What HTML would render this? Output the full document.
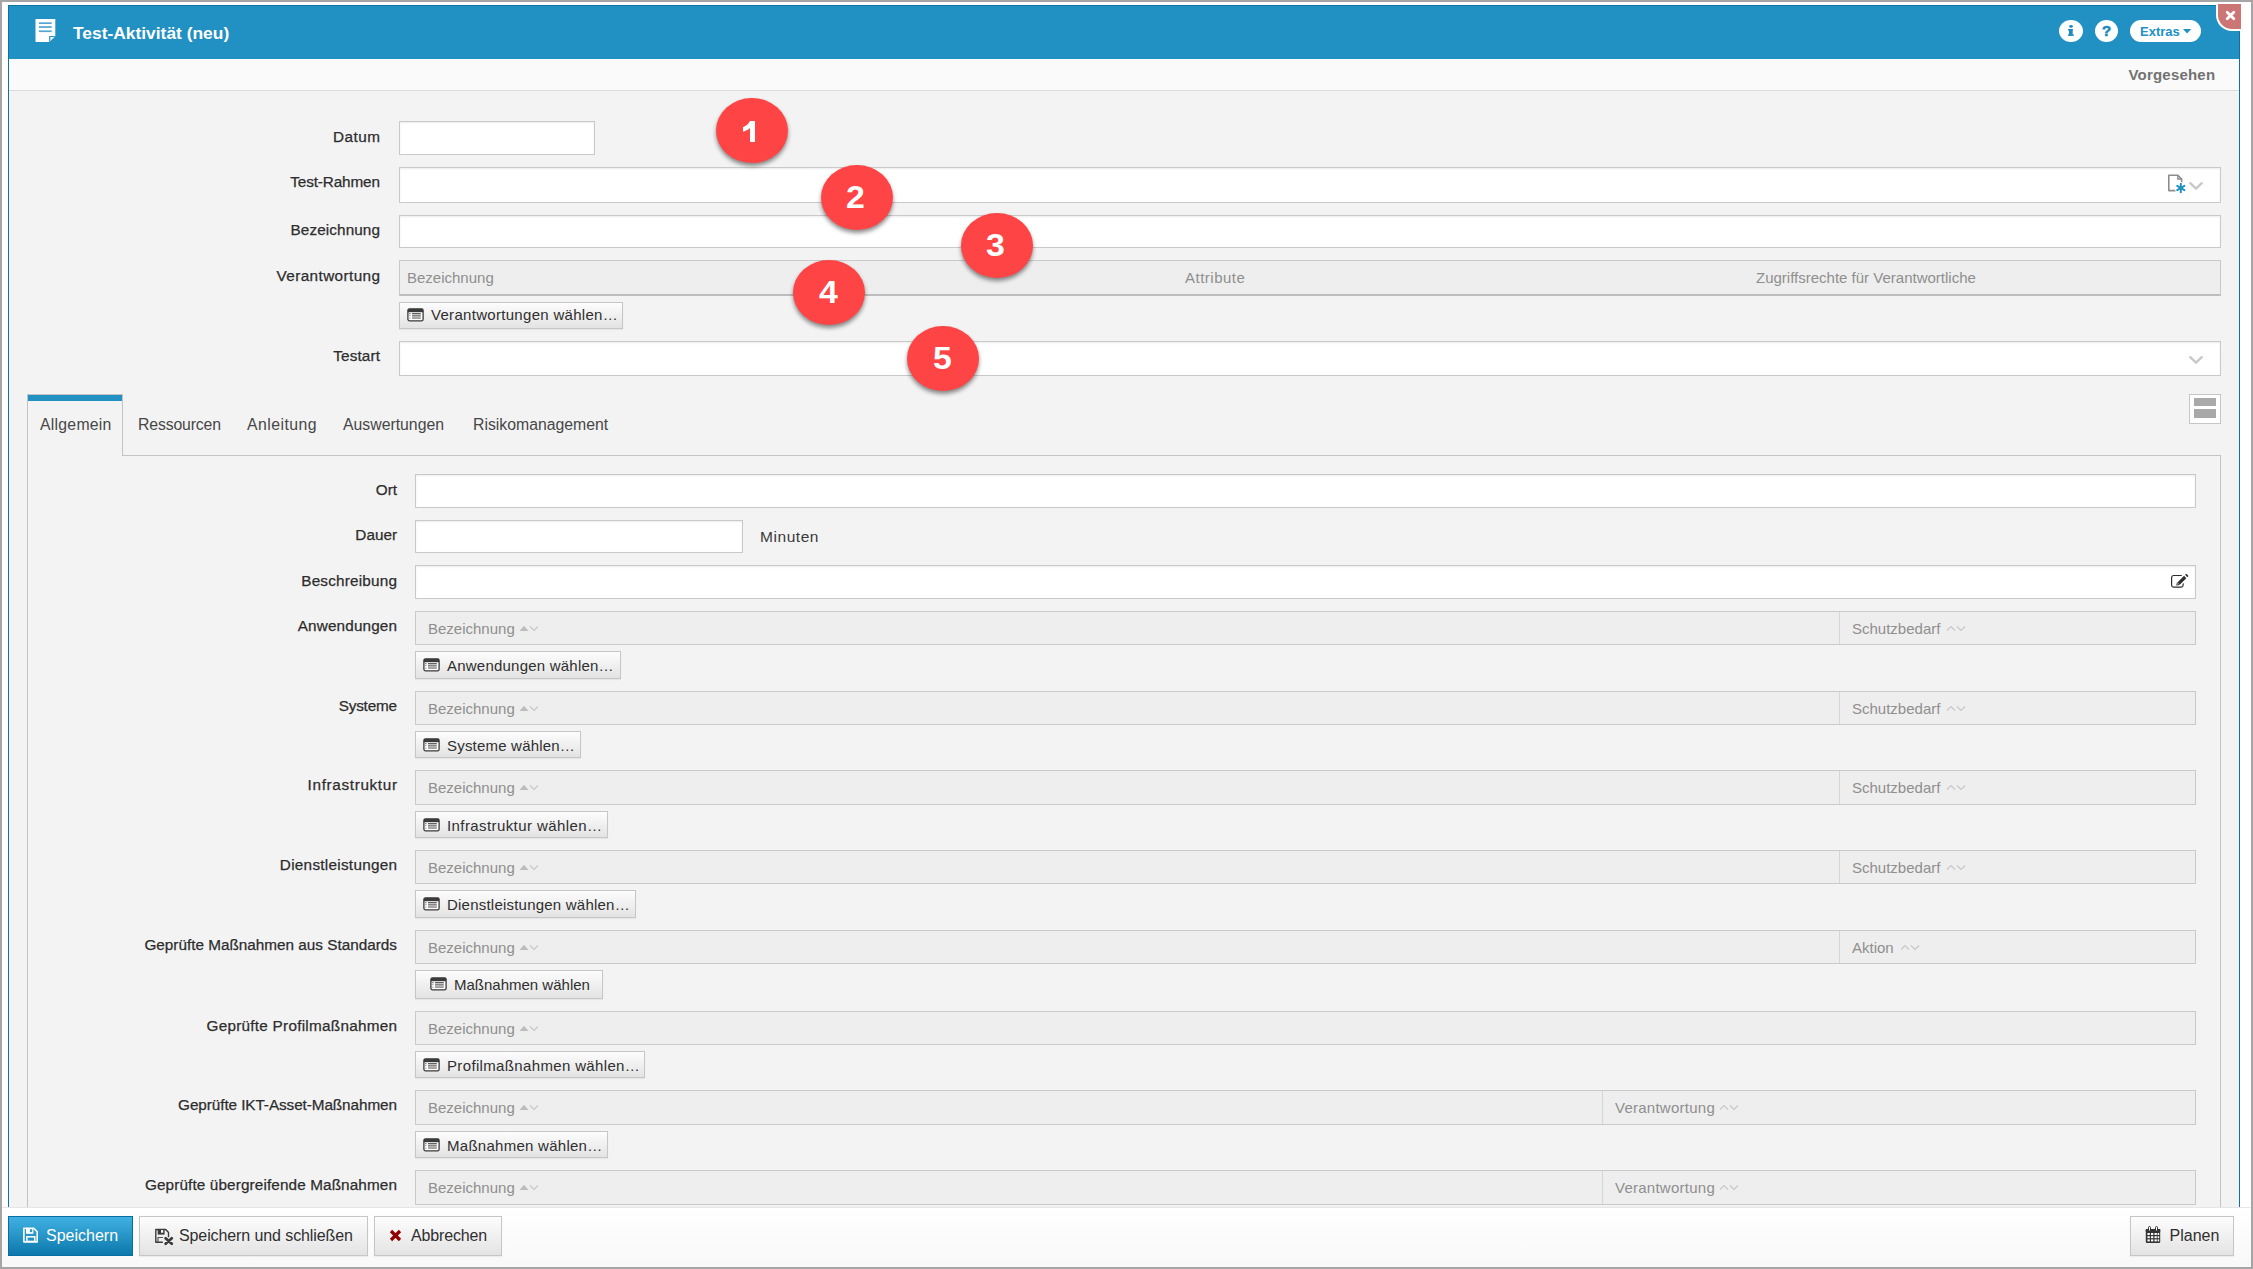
<!DOCTYPE html>
<html><head><meta charset="utf-8">
<style>
*{box-sizing:border-box;margin:0;padding:0}
html,body{width:2253px;height:1269px;overflow:hidden;background:#fff;font-family:"Liberation Sans",sans-serif}
.a{position:absolute}
.frame{left:0;top:0;width:2253px;height:1269px;border:2px solid #a5a5a5}
.modal{left:8px;top:5px;width:2232px;height:1262px;border:1px solid #0b73a7;background:#f3f3f3}
.hdr{left:9px;top:6px;width:2230px;height:53px;background:#2190c3}
.tb{left:9px;top:59px;width:2230px;height:32px;background:#fafafa;border-bottom:1px solid #dcdcdc}
.t{position:absolute;white-space:nowrap;line-height:17px;font-size:15px}
.lbl{color:#2d2d2d;text-align:right;-webkit-text-stroke:0.25px #2d2d2d;font-size:15.3px}
.inp{position:absolute;background:#fff;border:1px solid #c9c9c9;box-shadow:inset 0 1px 2px rgba(0,0,0,.075)}
.th{position:absolute;background:#eeeeee;border:1px solid #c9c9c9}
.ph{color:#8f8f8f}
.btn{position:absolute;border:1px solid #c6c6c6;background:linear-gradient(#fdfdfd,#e3e3e3);box-shadow:0 1px 1px rgba(0,0,0,.05)}
.bt{color:#2f2f2f;font-size:15px}
.circ{position:absolute;background:#fe4444;border-radius:50%;box-shadow:0 3px 4px rgba(0,0,0,.45);color:#fff;font-weight:bold;font-size:28px;text-align:center}
.tab{color:#474747;font-size:15.8px}
.dig{color:#fff;font-weight:bold;font-size:30.5px;line-height:34px;transform:scaleX(1.11);transform-origin:0 0}
.foot{left:2px;top:1207px;width:2249px;height:60px;background:linear-gradient(#fff,#f8f8f8);border-top:1px solid #e6e6e6}
</style></head><body>
<div class="a modal"></div>
<div class="a hdr"></div>
<div class="a tb"></div>
<!-- header right -->
<div class="a" style="left:2059px;top:20px;width:24px;height:22px;border-radius:50%;background:#fff"></div>
<div class="a" style="left:2095px;top:20px;width:23px;height:22px;border-radius:50%;background:#fff"></div>
<div class="a" style="left:2130px;top:20px;width:71px;height:22px;border-radius:11px;background:#fff"></div>
<div class="t" style="left:2140px;top:23px;font-size:13px;font-weight:bold;color:#2190c3">Extras</div>
<div class="a" style="left:2216px;top:2px;width:35px;height:29px;background:#fff;border-bottom-left-radius:16px"></div>
<div class="a" style="left:2218px;top:4px;width:23px;height:25px;background:#cc7575;border-bottom-left-radius:14px"></div>



<!-- header -->
<svg class="a" style="left:35px;top:19px" width="21" height="24" viewBox="0 0 21 24"><path d="M0.5 0H20.3V17L14.2 23.1H0.5Z" fill="#fff"/><path d="M14.2 23.1V17H20.3Z" fill="#2190c3"/><path d="M15.3 18.1H19.6L15.3 21.9Z" fill="#fff" opacity=".92"/><rect x="3.9" y="3.3" width="12.8" height="1.7" fill="#55a7d2"/><rect x="3.9" y="7.2" width="12.8" height="1.7" fill="#55a7d2"/><rect x="3.9" y="11.4" width="12.8" height="1.7" fill="#55a7d2"/></svg>
<div class="t" style="left:73px;top:23px;font-size:17.4px;font-weight:bold;color:#fff;line-height:20px">Test-Aktivität (neu)</div>

<div class="t" style="left:2128.5px;top:66px;font-size:15px;font-weight:bold;color:#727272;letter-spacing:0.2px">Vorgesehen</div>

<!-- top form -->
<div class="t lbl" style="right:1873px;top:128px;letter-spacing:0.5px;margin-right:-0.5px">Datum</div>
<div class="inp" style="left:399px;top:121px;width:196px;height:34px"></div>
<div class="t lbl" style="right:1873px;top:173px;letter-spacing:-0.12px;margin-right:0.12px">Test-Rahmen</div>
<div class="inp" style="left:399px;top:167px;width:1822px;height:36px"></div>
<div class="t lbl" style="right:1873px;top:221px;letter-spacing:0.1px;margin-right:-0.1px">Bezeichnung</div>
<div class="inp" style="left:399px;top:215px;width:1822px;height:33px"></div>
<div class="t lbl" style="right:1873px;top:267px;letter-spacing:0.4px;margin-right:-0.4px">Verantwortung</div>
<div class="th" style="left:399px;top:260px;width:1822px;height:36px;border-bottom:2px solid #bdbdbd"></div>
<div class="t ph" style="left:407px;top:269px">Bezeichnung</div>
<div class="t ph" style="left:1185px;top:269px;letter-spacing:0.5px">Attribute</div>
<div class="t ph" style="left:1756px;top:269px">Zugriffsrechte für Verantwortliche</div>
<div class="btn" style="left:399px;top:302px;width:224px;height:27px"></div>
<div class="t bt" style="left:431px;top:306px;letter-spacing:0.3px">Verantwortungen wählen…</div>
<div class="t lbl" style="right:1873px;top:347px;letter-spacing:0.15px;margin-right:-0.15px">Testart</div>
<div class="inp" style="left:399px;top:341px;width:1822px;height:35px"></div>


<!-- tabs -->
<div class="a" style="left:27px;top:455px;width:2194px;height:800px;border:1px solid #c3c3c3;border-bottom:none"></div>
<div class="a" style="left:27px;top:394px;width:96px;height:62px;border:1px solid #c3c3c3;border-bottom:none;background:#f3f3f3"></div>
<div class="a" style="left:28px;top:395px;width:94px;height:6px;background:#2190c3"></div>
<div class="t tab" style="left:40px;top:416px;letter-spacing:0.25px">Allgemein</div>
<div class="t tab" style="left:138px;top:416px;letter-spacing:-0.15px">Ressourcen</div>
<div class="t tab" style="left:247px;top:416px;letter-spacing:0.45px">Anleitung</div>
<div class="t tab" style="left:343px;top:416px">Auswertungen</div>
<div class="t tab" style="left:473px;top:416px">Risikomanagement</div>
<div class="a" style="left:2189px;top:394px;width:32px;height:30px;background:#fff;border:1px solid #c6c6c6"></div>
<div class="a" style="left:2194px;top:398px;width:22px;height:8px;background:#a9a9a9"></div>
<div class="a" style="left:2194px;top:409px;width:22px;height:9px;background:#a9a9a9"></div>

<!-- panel fields -->
<div class="t lbl" style="right:1856px;top:481px">Ort</div>
<div class="inp" style="left:415px;top:474px;width:1781px;height:34px"></div>
<div class="t lbl" style="right:1856px;top:526px">Dauer</div>
<div class="inp" style="left:415px;top:520px;width:328px;height:33px"></div>
<div class="t" style="left:760px;top:528px;color:#3a3a3a;font-size:15.5px;letter-spacing:0.55px">Minuten</div>
<div class="t lbl" style="right:1856px;top:572px;letter-spacing:0.2px;margin-right:-0.2px">Beschreibung</div>
<div class="inp" style="left:415px;top:565px;width:1781px;height:34px"></div>
<div class="t lbl" style="right:1856px;top:617px;letter-spacing:0.14px;margin-right:-0.14px">Anwendungen</div>
<div class="th" style="left:415px;top:611px;width:1781px;height:34px"></div>
<div class="t ph" style="left:428px;top:620px">Bezeichnung</div>
<svg class="a" style="left:519px;top:625px" width="20" height="7" viewBox="0 0 20 7"><path d="M0.5 6L5 0.8L9.5 6Z" fill="#bdbdbd"/><path d="M11 1.5L15 5.5L19 1.5" fill="none" stroke="#c8c8c8" stroke-width="1.2"/></svg>
<div class="a" style="left:1839px;top:612px;width:1px;height:32px;background:#d6d6d6"></div>
<div class="t ph" style="left:1852px;top:620px">Schutzbedarf</div>
<div class="btn" style="left:415px;top:651px;width:206px;height:28px"></div>
<svg class="a" style="left:423px;top:658px" width="17" height="14" viewBox="0 0 17 14"><rect x="0.9" y="0.9" width="15.2" height="11.9" rx="1.6" fill="#fff" stroke="#3a3a3a" stroke-width="1.3"/><rect x="0.9" y="0.9" width="15.2" height="3.3" fill="#3a3a3a"/><rect x="5" y="5.2" width="8.8" height="1.1" fill="#3a3a3a"/><rect x="5" y="7.1" width="8.8" height="1" fill="#7a7a7a"/><rect x="5" y="8.1" width="8.8" height="1.5" fill="#ababab"/><rect x="5" y="9.6" width="8.8" height="1.1" fill="#7a7a7a"/><circle cx="2.9" cy="5.7" r="0.6" fill="#3a3a3a"/><circle cx="2.9" cy="7.6" r="0.6" fill="#777"/><circle cx="2.9" cy="10.1" r="0.6" fill="#777"/></svg>
<div class="t bt" style="left:447px;top:657px;letter-spacing:0.22px">Anwendungen wählen…</div>
<div class="t lbl" style="right:1856px;top:697px;letter-spacing:-0.2px;margin-right:0.2px">Systeme</div>
<div class="th" style="left:415px;top:691px;width:1781px;height:34px"></div>
<div class="t ph" style="left:428px;top:700px">Bezeichnung</div>
<svg class="a" style="left:519px;top:705px" width="20" height="7" viewBox="0 0 20 7"><path d="M0.5 6L5 0.8L9.5 6Z" fill="#bdbdbd"/><path d="M11 1.5L15 5.5L19 1.5" fill="none" stroke="#c8c8c8" stroke-width="1.2"/></svg>
<div class="a" style="left:1839px;top:692px;width:1px;height:32px;background:#d6d6d6"></div>
<div class="t ph" style="left:1852px;top:700px">Schutzbedarf</div>
<div class="btn" style="left:415px;top:731px;width:166px;height:27px"></div>
<svg class="a" style="left:423px;top:738px" width="17" height="14" viewBox="0 0 17 14"><rect x="0.9" y="0.9" width="15.2" height="11.9" rx="1.6" fill="#fff" stroke="#3a3a3a" stroke-width="1.3"/><rect x="0.9" y="0.9" width="15.2" height="3.3" fill="#3a3a3a"/><rect x="5" y="5.2" width="8.8" height="1.1" fill="#3a3a3a"/><rect x="5" y="7.1" width="8.8" height="1" fill="#7a7a7a"/><rect x="5" y="8.1" width="8.8" height="1.5" fill="#ababab"/><rect x="5" y="9.6" width="8.8" height="1.1" fill="#7a7a7a"/><circle cx="2.9" cy="5.7" r="0.6" fill="#3a3a3a"/><circle cx="2.9" cy="7.6" r="0.6" fill="#777"/><circle cx="2.9" cy="10.1" r="0.6" fill="#777"/></svg>
<div class="t bt" style="left:447px;top:737px;letter-spacing:0.2px">Systeme wählen…</div>
<div class="t lbl" style="right:1856px;top:776px;letter-spacing:0.65px;margin-right:-0.65px">Infrastruktur</div>
<div class="th" style="left:415px;top:770px;width:1781px;height:35px"></div>
<div class="t ph" style="left:428px;top:779px">Bezeichnung</div>
<svg class="a" style="left:519px;top:784px" width="20" height="7" viewBox="0 0 20 7"><path d="M0.5 6L5 0.8L9.5 6Z" fill="#bdbdbd"/><path d="M11 1.5L15 5.5L19 1.5" fill="none" stroke="#c8c8c8" stroke-width="1.2"/></svg>
<div class="a" style="left:1839px;top:771px;width:1px;height:33px;background:#d6d6d6"></div>
<div class="t ph" style="left:1852px;top:779px">Schutzbedarf</div>
<div class="btn" style="left:415px;top:811px;width:193px;height:27px"></div>
<svg class="a" style="left:423px;top:818px" width="17" height="14" viewBox="0 0 17 14"><rect x="0.9" y="0.9" width="15.2" height="11.9" rx="1.6" fill="#fff" stroke="#3a3a3a" stroke-width="1.3"/><rect x="0.9" y="0.9" width="15.2" height="3.3" fill="#3a3a3a"/><rect x="5" y="5.2" width="8.8" height="1.1" fill="#3a3a3a"/><rect x="5" y="7.1" width="8.8" height="1" fill="#7a7a7a"/><rect x="5" y="8.1" width="8.8" height="1.5" fill="#ababab"/><rect x="5" y="9.6" width="8.8" height="1.1" fill="#7a7a7a"/><circle cx="2.9" cy="5.7" r="0.6" fill="#3a3a3a"/><circle cx="2.9" cy="7.6" r="0.6" fill="#777"/><circle cx="2.9" cy="10.1" r="0.6" fill="#777"/></svg>
<div class="t bt" style="left:447px;top:817px;letter-spacing:0.41px">Infrastruktur wählen…</div>
<div class="t lbl" style="right:1856px;top:856px;letter-spacing:0.27px;margin-right:-0.27px">Dienstleistungen</div>
<div class="th" style="left:415px;top:850px;width:1781px;height:34px"></div>
<div class="t ph" style="left:428px;top:859px">Bezeichnung</div>
<svg class="a" style="left:519px;top:864px" width="20" height="7" viewBox="0 0 20 7"><path d="M0.5 6L5 0.8L9.5 6Z" fill="#bdbdbd"/><path d="M11 1.5L15 5.5L19 1.5" fill="none" stroke="#c8c8c8" stroke-width="1.2"/></svg>
<div class="a" style="left:1839px;top:851px;width:1px;height:32px;background:#d6d6d6"></div>
<div class="t ph" style="left:1852px;top:859px">Schutzbedarf</div>
<div class="btn" style="left:415px;top:890px;width:221px;height:28px"></div>
<svg class="a" style="left:423px;top:897px" width="17" height="14" viewBox="0 0 17 14"><rect x="0.9" y="0.9" width="15.2" height="11.9" rx="1.6" fill="#fff" stroke="#3a3a3a" stroke-width="1.3"/><rect x="0.9" y="0.9" width="15.2" height="3.3" fill="#3a3a3a"/><rect x="5" y="5.2" width="8.8" height="1.1" fill="#3a3a3a"/><rect x="5" y="7.1" width="8.8" height="1" fill="#7a7a7a"/><rect x="5" y="8.1" width="8.8" height="1.5" fill="#ababab"/><rect x="5" y="9.6" width="8.8" height="1.1" fill="#7a7a7a"/><circle cx="2.9" cy="5.7" r="0.6" fill="#3a3a3a"/><circle cx="2.9" cy="7.6" r="0.6" fill="#777"/><circle cx="2.9" cy="10.1" r="0.6" fill="#777"/></svg>
<div class="t bt" style="left:447px;top:896px;letter-spacing:0.22px">Dienstleistungen wählen…</div>
<div class="t lbl" style="right:1856px;top:936px">Geprüfte Maßnahmen aus Standards</div>
<div class="th" style="left:415px;top:930px;width:1781px;height:34px"></div>
<div class="t ph" style="left:428px;top:939px">Bezeichnung</div>
<svg class="a" style="left:519px;top:944px" width="20" height="7" viewBox="0 0 20 7"><path d="M0.5 6L5 0.8L9.5 6Z" fill="#bdbdbd"/><path d="M11 1.5L15 5.5L19 1.5" fill="none" stroke="#c8c8c8" stroke-width="1.2"/></svg>
<div class="a" style="left:1839px;top:931px;width:1px;height:32px;background:#d6d6d6"></div>
<div class="t ph" style="left:1852px;top:939px">Aktion</div>
<div class="btn" style="left:415px;top:970px;width:188px;height:29px"></div>
<svg class="a" style="left:430px;top:977px" width="17" height="14" viewBox="0 0 17 14"><rect x="0.9" y="0.9" width="15.2" height="11.9" rx="1.6" fill="#fff" stroke="#3a3a3a" stroke-width="1.3"/><rect x="0.9" y="0.9" width="15.2" height="3.3" fill="#3a3a3a"/><rect x="5" y="5.2" width="8.8" height="1.1" fill="#3a3a3a"/><rect x="5" y="7.1" width="8.8" height="1" fill="#7a7a7a"/><rect x="5" y="8.1" width="8.8" height="1.5" fill="#ababab"/><rect x="5" y="9.6" width="8.8" height="1.1" fill="#7a7a7a"/><circle cx="2.9" cy="5.7" r="0.6" fill="#3a3a3a"/><circle cx="2.9" cy="7.6" r="0.6" fill="#777"/><circle cx="2.9" cy="10.1" r="0.6" fill="#777"/></svg>
<div class="t bt" style="left:454px;top:976px">Maßnahmen wählen</div>
<div class="t lbl" style="right:1856px;top:1017px;letter-spacing:0.26px;margin-right:-0.26px">Geprüfte Profilmaßnahmen</div>
<div class="th" style="left:415px;top:1011px;width:1781px;height:34px"></div>
<div class="t ph" style="left:428px;top:1020px">Bezeichnung</div>
<svg class="a" style="left:519px;top:1025px" width="20" height="7" viewBox="0 0 20 7"><path d="M0.5 6L5 0.8L9.5 6Z" fill="#bdbdbd"/><path d="M11 1.5L15 5.5L19 1.5" fill="none" stroke="#c8c8c8" stroke-width="1.2"/></svg>
<div class="btn" style="left:415px;top:1051px;width:230px;height:27px"></div>
<svg class="a" style="left:423px;top:1058px" width="17" height="14" viewBox="0 0 17 14"><rect x="0.9" y="0.9" width="15.2" height="11.9" rx="1.6" fill="#fff" stroke="#3a3a3a" stroke-width="1.3"/><rect x="0.9" y="0.9" width="15.2" height="3.3" fill="#3a3a3a"/><rect x="5" y="5.2" width="8.8" height="1.1" fill="#3a3a3a"/><rect x="5" y="7.1" width="8.8" height="1" fill="#7a7a7a"/><rect x="5" y="8.1" width="8.8" height="1.5" fill="#ababab"/><rect x="5" y="9.6" width="8.8" height="1.1" fill="#7a7a7a"/><circle cx="2.9" cy="5.7" r="0.6" fill="#3a3a3a"/><circle cx="2.9" cy="7.6" r="0.6" fill="#777"/><circle cx="2.9" cy="10.1" r="0.6" fill="#777"/></svg>
<div class="t bt" style="left:447px;top:1057px;letter-spacing:0.35px">Profilmaßnahmen wählen…</div>
<div class="t lbl" style="right:1856px;top:1096px;letter-spacing:-0.08px;margin-right:0.08px">Geprüfte IKT-Asset-Maßnahmen</div>
<div class="th" style="left:415px;top:1090px;width:1781px;height:35px"></div>
<div class="t ph" style="left:428px;top:1099px">Bezeichnung</div>
<svg class="a" style="left:519px;top:1104px" width="20" height="7" viewBox="0 0 20 7"><path d="M0.5 6L5 0.8L9.5 6Z" fill="#bdbdbd"/><path d="M11 1.5L15 5.5L19 1.5" fill="none" stroke="#c8c8c8" stroke-width="1.2"/></svg>
<div class="a" style="left:1602px;top:1091px;width:1px;height:33px;background:#d6d6d6"></div>
<div class="t ph" style="left:1615px;top:1099px;letter-spacing:0.25px">Verantwortung</div>
<div class="btn" style="left:415px;top:1131px;width:193px;height:27px"></div>
<svg class="a" style="left:423px;top:1138px" width="17" height="14" viewBox="0 0 17 14"><rect x="0.9" y="0.9" width="15.2" height="11.9" rx="1.6" fill="#fff" stroke="#3a3a3a" stroke-width="1.3"/><rect x="0.9" y="0.9" width="15.2" height="3.3" fill="#3a3a3a"/><rect x="5" y="5.2" width="8.8" height="1.1" fill="#3a3a3a"/><rect x="5" y="7.1" width="8.8" height="1" fill="#7a7a7a"/><rect x="5" y="8.1" width="8.8" height="1.5" fill="#ababab"/><rect x="5" y="9.6" width="8.8" height="1.1" fill="#7a7a7a"/><circle cx="2.9" cy="5.7" r="0.6" fill="#3a3a3a"/><circle cx="2.9" cy="7.6" r="0.6" fill="#777"/><circle cx="2.9" cy="10.1" r="0.6" fill="#777"/></svg>
<div class="t bt" style="left:447px;top:1137px;letter-spacing:0.27px">Maßnahmen wählen…</div>
<div class="t lbl" style="right:1856px;top:1176px;letter-spacing:0.12px;margin-right:-0.12px">Geprüfte übergreifende Maßnahmen</div>
<div class="th" style="left:415px;top:1170px;width:1781px;height:35px"></div>
<div class="t ph" style="left:428px;top:1179px">Bezeichnung</div>
<svg class="a" style="left:519px;top:1184px" width="20" height="7" viewBox="0 0 20 7"><path d="M0.5 6L5 0.8L9.5 6Z" fill="#bdbdbd"/><path d="M11 1.5L15 5.5L19 1.5" fill="none" stroke="#c8c8c8" stroke-width="1.2"/></svg>
<div class="a" style="left:1602px;top:1171px;width:1px;height:33px;background:#d6d6d6"></div>
<div class="t ph" style="left:1615px;top:1179px;letter-spacing:0.25px">Verantwortung</div>
<!-- footer -->
<div class="foot a"></div>
<div class="a" style="left:8px;top:1216px;width:125px;height:40px;border:1px solid #0a6d9f;background:linear-gradient(#40b0e2,#0c78ab)"></div>
<div class="t" style="left:46px;top:1227px;color:#fff;font-size:16px">Speichern</div>
<div class="btn" style="left:139px;top:1216px;width:229px;height:40px"></div>
<div class="t bt" style="left:179px;top:1227px;font-size:16px;letter-spacing:-0.1px">Speichern und schließen</div>
<div class="btn" style="left:374px;top:1216px;width:128px;height:40px"></div>
<div class="t bt" style="left:411px;top:1227px;font-size:16px;letter-spacing:-0.15px">Abbrechen</div>
<div class="btn" style="left:2130px;top:1216px;width:104px;height:40px"></div>
<div class="t bt" style="left:2169.5px;top:1227px;font-size:16px">Planen</div>

<svg class="a" style="left:407px;top:308px" width="17" height="14" viewBox="0 0 17 14"><rect x="0.9" y="0.9" width="15.2" height="11.9" rx="1.6" fill="#fff" stroke="#3a3a3a" stroke-width="1.3"/><rect x="0.9" y="0.9" width="15.2" height="3.3" fill="#3a3a3a"/><rect x="5" y="5.2" width="8.8" height="1.1" fill="#3a3a3a"/><rect x="5" y="7.1" width="8.8" height="1" fill="#7a7a7a"/><rect x="5" y="8.1" width="8.8" height="1.5" fill="#ababab"/><rect x="5" y="9.6" width="8.8" height="1.1" fill="#7a7a7a"/><circle cx="2.9" cy="5.7" r="0.6" fill="#3a3a3a"/><circle cx="2.9" cy="7.6" r="0.6" fill="#777"/><circle cx="2.9" cy="10.1" r="0.6" fill="#777"/></svg>
<svg class="a" style="left:2167px;top:173px" width="22" height="23" viewBox="0 0 22 23"><path d="M1.8 2.2H10.8L14.6 6V17.6H1.8Z" fill="#fff" stroke="#8c8c8c" stroke-width="1.6" stroke-linejoin="round"/><path d="M10.8 2.2V6H14.6" fill="none" stroke="#8c8c8c" stroke-width="1.3"/><g stroke="#fff" stroke-width="4.2" stroke-linecap="round"><path d="M13.8 10.8V19.2"/><path d="M10.2 12.9L17.4 17.1"/><path d="M10.2 17.1L17.4 12.9"/></g><g stroke="#2190c3" stroke-width="2" stroke-linecap="round"><path d="M13.8 10.8V19.2"/><path d="M10.2 12.9L17.4 17.1"/><path d="M10.2 17.1L17.4 12.9"/></g></svg>
<svg class="a" style="left:2188px;top:180px" width="16" height="11" viewBox="0 0 16 11"><path d="M2.3 3.2L8 8.6L13.7 3.2" fill="none" stroke="#c8c8c8" stroke-width="2.4" stroke-linecap="round" stroke-linejoin="round"/></svg>
<svg class="a" style="left:2188px;top:354px" width="16" height="11" viewBox="0 0 16 11"><path d="M2.3 3.2L8 8.6L13.7 3.2" fill="none" stroke="#c8c8c8" stroke-width="2.4" stroke-linecap="round" stroke-linejoin="round"/></svg>
<svg class="a" style="left:2170px;top:574px" width="20" height="15" viewBox="0 0 20 15"><path d="M11.8 1.5H3.5A2 2 0 0 0 1.6 3.5V11.2A2 2 0 0 0 3.5 13.1H11.2A2 2 0 0 0 13.1 11.2V9.2" fill="none" stroke="#2e2e2e" stroke-width="1.2"/><path d="M8.6 9.6L15.2 3" stroke="#fff" stroke-width="5.4"/><path d="M8.6 9.6L15.2 3" stroke="#2e2e2e" stroke-width="3.2"/><path d="M16.2 2L17.4 0.8" stroke="#2e2e2e" stroke-width="3.2"/><path d="M6.2 11.4L7 8.2L9.8 11Z" fill="#2e2e2e"/><path d="M7.2 10.4L7.6 9.2L8.6 10.2Z" fill="#fff"/></svg>
<svg class="a" style="left:1946px;top:625px" width="20" height="7" viewBox="0 0 20 7"><path d="M1 5.5L5 1.5L9 5.5" fill="none" stroke="#c8c8c8" stroke-width="1.2"/><path d="M11 1.5L15 5.5L19 1.5" fill="none" stroke="#c8c8c8" stroke-width="1.2"/></svg>
<svg class="a" style="left:1946px;top:705px" width="20" height="7" viewBox="0 0 20 7"><path d="M1 5.5L5 1.5L9 5.5" fill="none" stroke="#c8c8c8" stroke-width="1.2"/><path d="M11 1.5L15 5.5L19 1.5" fill="none" stroke="#c8c8c8" stroke-width="1.2"/></svg>
<svg class="a" style="left:1946px;top:784px" width="20" height="7" viewBox="0 0 20 7"><path d="M1 5.5L5 1.5L9 5.5" fill="none" stroke="#c8c8c8" stroke-width="1.2"/><path d="M11 1.5L15 5.5L19 1.5" fill="none" stroke="#c8c8c8" stroke-width="1.2"/></svg>
<svg class="a" style="left:1946px;top:864px" width="20" height="7" viewBox="0 0 20 7"><path d="M1 5.5L5 1.5L9 5.5" fill="none" stroke="#c8c8c8" stroke-width="1.2"/><path d="M11 1.5L15 5.5L19 1.5" fill="none" stroke="#c8c8c8" stroke-width="1.2"/></svg>
<svg class="a" style="left:1900px;top:944px" width="20" height="7" viewBox="0 0 20 7"><path d="M1 5.5L5 1.5L9 5.5" fill="none" stroke="#c8c8c8" stroke-width="1.2"/><path d="M11 1.5L15 5.5L19 1.5" fill="none" stroke="#c8c8c8" stroke-width="1.2"/></svg>
<svg class="a" style="left:1719px;top:1104px" width="20" height="7" viewBox="0 0 20 7"><path d="M1 5.5L5 1.5L9 5.5" fill="none" stroke="#c8c8c8" stroke-width="1.2"/><path d="M11 1.5L15 5.5L19 1.5" fill="none" stroke="#c8c8c8" stroke-width="1.2"/></svg>
<svg class="a" style="left:1719px;top:1184px" width="20" height="7" viewBox="0 0 20 7"><path d="M1 5.5L5 1.5L9 5.5" fill="none" stroke="#c8c8c8" stroke-width="1.2"/><path d="M11 1.5L15 5.5L19 1.5" fill="none" stroke="#c8c8c8" stroke-width="1.2"/></svg>
<svg class="a" style="left:2066px;top:24px" width="10" height="13" viewBox="0 0 10 13"><ellipse cx="5" cy="2.4" rx="1.9" ry="1.4" fill="#1e8bc0"/><rect x="3" y="5.1" width="3.7" height="6.5" fill="#1e8bc0"/><rect x="2" y="5.1" width="4.7" height="1.5" fill="#1e8bc0"/><rect x="2" y="10.4" width="5.8" height="1.5" fill="#1e8bc0"/></svg>
<div class="t" style="left:2095px;top:21px;width:23px;text-align:center;font-weight:bold;font-size:15px;color:#1e8bc0;line-height:20px;-webkit-text-stroke:0.6px #1e8bc0">?</div>
<svg class="a" style="left:2183px;top:29px" width="9" height="6" viewBox="0 0 9 6"><path d="M0 0H8.2L4.1 4.6Z" fill="#2190c3"/></svg>
<svg class="a" style="left:2225px;top:10px" width="11" height="11" viewBox="0 0 11 11"><path d="M2.2 2.2L8.8 8.8M8.8 2.2L2.2 8.8" stroke="#fff" stroke-width="2.8" stroke-linecap="round"/></svg>
<svg class="a" style="left:23px;top:1227px" width="16" height="17" viewBox="0 0 16 17"><path d="M0.9 1.3H10.8L14.2 4.7V14.9H0.9Z" fill="none" stroke="#fff" stroke-width="1.6" stroke-linejoin="round"/><rect x="3" y="1.5" width="7.4" height="5.3" fill="#fff"/><rect x="6.9" y="2.2" width="2.3" height="2.9" fill="#2a9ad0"/><rect x="3.9" y="9.8" width="7.9" height="4.6" fill="none" stroke="#fff" stroke-width="1.5"/></svg>
<svg class="a" style="left:154px;top:1227px" width="20" height="19" viewBox="0 0 20 19"><path d="M8.8 15.3H1.8V2.5H11.7L14.5 5.5V10.3" fill="none" stroke="#3a3a3a" stroke-width="1.4" stroke-linejoin="round"/><rect x="3.7" y="2.5" width="6.9" height="5.1" fill="#3a3a3a"/><rect x="7" y="3.1" width="2.2" height="2.6" fill="#fff"/><path d="M4 15.3V10.5H9" fill="none" stroke="#555" stroke-width="1.2"/><path d="M11.6 11.3L17.8 16.7M17.8 11.3L11.6 16.7" stroke="#3a3a3a" stroke-width="2.8" stroke-linecap="round"/></svg>
<svg class="a" style="left:389px;top:1229px" width="13" height="13" viewBox="0 0 13 13"><path d="M2 2L11 11M11 2L2 11" stroke="#900000" stroke-width="3.2"/></svg>
<svg class="a" style="left:2145px;top:1226px" width="16" height="18" viewBox="0 0 16 18"><rect x="0.8" y="3" width="14.4" height="14" rx="1.2" fill="#333"/><rect x="0.8" y="3" width="14.4" height="3" fill="#333"/><g fill="#fff"><rect x="2.5" y="7" width="2.3" height="2"/><rect x="6" y="7" width="2.3" height="2"/><rect x="9.5" y="7" width="2.3" height="2"/><rect x="12.6" y="7" width="1.6" height="2"/><rect x="2.5" y="10.2" width="2.3" height="2"/><rect x="6" y="10.2" width="2.3" height="2"/><rect x="9.5" y="10.2" width="2.3" height="2"/><rect x="12.6" y="10.2" width="1.6" height="2"/><rect x="2.5" y="13.4" width="2.3" height="2"/><rect x="6" y="13.4" width="2.3" height="2"/><rect x="9.5" y="13.4" width="2.3" height="2"/><rect x="12.6" y="13.4" width="1.6" height="2"/></g><rect x="3.5" y="0.5" width="2" height="4.5" rx="1" fill="#fff" stroke="#333" stroke-width="1"/><rect x="10.5" y="0.5" width="2" height="4.5" rx="1" fill="#fff" stroke="#333" stroke-width="1"/></svg>
<!-- annotation circles -->
<div class="circ" style="left:716px;top:98px;width:72px;height:65px"></div>
<div class="circ" style="left:821px;top:165px;width:72px;height:65px"></div>
<div class="circ" style="left:961px;top:213px;width:72px;height:65px"></div>
<div class="circ" style="left:793px;top:260px;width:72px;height:65px"></div>
<div class="circ" style="left:907px;top:326px;width:72px;height:65px"></div>
<svg class="a" style="left:743px;top:121px" width="12" height="21" viewBox="0 0 12 21"><path d="M7 0H12V21H7V7C5.3 8.6 3 9.8 0 10.8V6.2C3.2 5 5.6 2.8 7 0Z" fill="#fff"/></svg>
<div class="t dig" style="left:846px;top:180px">2</div>
<div class="t dig" style="left:986px;top:228px">3</div>
<div class="t dig" style="left:819px;top:275px">4</div>
<div class="t dig" style="left:933px;top:341px">5</div>
<div class="a frame"></div>
</body></html>
